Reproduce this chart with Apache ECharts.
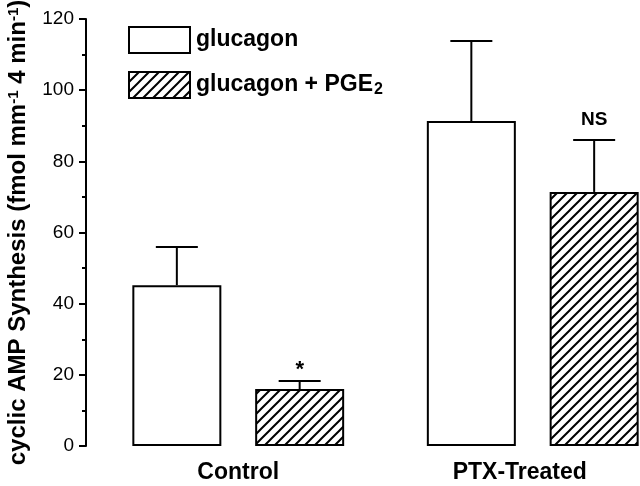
<!DOCTYPE html>
<html>
<head>
<meta charset="utf-8">
<script src="https://cdn.jsdelivr.net/npm/echarts@6/dist/echarts.min.js"></script>
<style>
html, body { margin: 0; padding: 0; background: #fff; }
#chart { width: 640px; height: 486px; }
</style>
</head>
<body>
<div id="chart"></div>
<script>
var categories = ['Control', 'PTX-Treated'];
var glucagon = [45.2, 91.3];
var glucagonSem = [10.7, 22.5];
var pge2 = [16.0, 71.4];
var pge2Sem = [2.3, 14.6];
var glucagonMarks = ['', ''];
var pge2Marks = ['*', 'NS'];
var yTicks = [0, 20, 40, 60, 80, 100, 120];

var FONT = '"Liberation Sans", Arial, Helvetica, sans-serif';
var BAR_W = 89;
var BAR_GAP = 0.38;

// hatch pattern "////"
function makeHatch() {
    var s = 10;
    var c = document.createElement('canvas');
    c.width = s; c.height = s;
    var ctx = c.getContext('2d');
    ctx.fillStyle = '#fff';
    ctx.fillRect(0, 0, s, s);
    ctx.strokeStyle = '#000';
    ctx.lineWidth = 2;
    ctx.beginPath();
    ctx.moveTo(-2, s + 2); ctx.lineTo(s + 2, -2);
    ctx.moveTo(-2, 2); ctx.lineTo(2, -2);
    ctx.moveTo(s - 2, s + 2); ctx.lineTo(s + 2, s - 2);
    ctx.stroke();
    return c;
}
var hatch = makeHatch();

function errorSeries(name, means, sems, marks, side) {
    var data = [];
    for (var i = 0; i < means.length; i++) {
        data.push([i, means[i], means[i] + sems[i]]);
    }
    return {
        name: name + ' err',
        type: 'custom',
        z: 5,
        silent: true,
        data: data,
        renderItem: function (params, api) {
            var off = side * (BAR_W + BAR_W * BAR_GAP) / 2;
            var base = api.coord([api.value(0), api.value(1)]);
            var top = api.coord([api.value(0), api.value(2)]);
            var x = base[0] + off;
            var mark = marks[params.dataIndex];
            var children = [
                { type: 'line', shape: { x1: x, y1: base[1], x2: x, y2: top[1] }, style: { stroke: '#000', lineWidth: 2 } },
                { type: 'line', shape: { x1: x - 21, y1: top[1], x2: x + 21, y2: top[1] }, style: { stroke: '#000', lineWidth: 2 } }
            ];
            if (mark) {
                var star = mark == '*';
                children.push({
                    type: 'text',
                    style: {
                        text: mark, x: x, y: top[1] - (star ? 0 : 11),
                        align: 'center', verticalAlign: 'bottom',
                        font: 'bold ' + (star ? 22 : 19) + 'px ' + FONT, fill: '#000'
                    }
                });
            }
            return { type: 'group', children: children };
        }
    };
}

var myChart = echarts.init(document.getElementById('chart'));

var option = {
    animation: false,
    backgroundColor: '#fff',
    textStyle: { fontFamily: FONT },
    grid: { left: 91, top: 19, bottom: 40, width: 589, outerBoundsMode: 'none', containLabel: false },
    legend: {
        left: 128,
        top: 26,
        padding: 0,
        orient: 'vertical',
        itemWidth: 61,
        itemHeight: 26,
        itemGap: 17,
        icon: 'rect',
        data: ['glucagon', 'glucagon + PGE2'],
        formatter: function (n) {
            return n == 'glucagon + PGE2' ? 'glucagon + PGE{sub|2}' : n;
        },
        textStyle: {
            fontFamily: FONT, fontSize: 23, fontWeight: 'bold', color: '#000',
            padding: [0, 0, 0, 1],
            rich: {
                sub: { fontFamily: FONT, fontSize: 16, fontWeight: 'bold', color: '#000', verticalAlign: 'bottom', padding: [9, 0, 0, 1] }
            }
        }
    },
    xAxis: {
        type: 'category',
        data: categories.map(function (c, i) {
            return i == 1 ? { value: c, textStyle: { padding: [0, 26, 0, 0] } } : c;
        }),
        axisLine: { show: false },
        axisTick: { show: false },
        axisLabel: { fontFamily: FONT, fontSize: 23, fontWeight: 'bold', color: '#000', margin: 15 }
    },
    yAxis: {
        type: 'value',
        offset: 5,
        min: yTicks[0],
        max: yTicks[yTicks.length - 1],
        interval: 20,
        name: 'cyclic AMP Synthesis (fmol mm{sup|-1} 4 min{sup|-1})',
        nameLocation: 'middle',
        nameGap: 56,
        nameTextStyle: {
            fontFamily: FONT, fontSize: 24, fontWeight: 'bold', color: '#000',
            rich: {
                sup: { fontFamily: FONT, fontSize: 15, fontWeight: 'bold', color: '#000', verticalAlign: 'top', padding: [0, 0, 9, 0] }
            }
        },
        axisLine: { show: true, lineStyle: { color: '#000', width: 2 } },
        axisTick: { show: true, length: 7, lineStyle: { color: '#000', width: 2 } },
        minorTick: { show: true, splitNumber: 2, length: 4, lineStyle: { color: '#000', width: 2 } },
        splitLine: { show: false },
        axisLabel: { fontFamily: FONT, fontSize: 19, color: '#000', margin: 12 }
    },
    series: [
        {
            name: 'glucagon',
            type: 'bar',
            barWidth: BAR_W,
            barGap: (BAR_GAP * 100) + '%',
            data: glucagon,
            itemStyle: { color: '#fff', borderColor: '#000', borderWidth: 2 }
        },
        {
            name: 'glucagon + PGE2',
            type: 'bar',
            barWidth: BAR_W,
            barGap: (BAR_GAP * 100) + '%',
            data: pge2,
            itemStyle: { color: { image: hatch, repeat: 'repeat' }, borderColor: '#000', borderWidth: 2 }
        },
        errorSeries('glucagon', glucagon, glucagonSem, glucagonMarks, -1),
        errorSeries('glucagon + PGE2', pge2, pge2Sem, pge2Marks, 1)
    ]
};
myChart.setOption(option);
</script>
</body>
</html>
